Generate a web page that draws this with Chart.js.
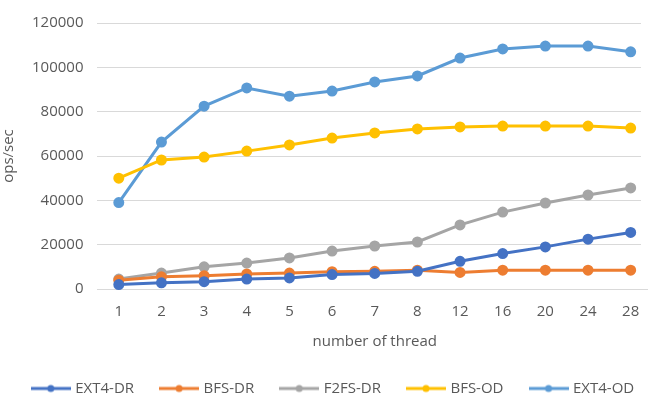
<!DOCTYPE html>
<html lang="en">
<head>
    <meta charset="UTF-8">
    <title>ops per thread</title>
    <script src="https://cdn.jsdelivr.net/npm/chart.js"></script>
    <style>
        body { margin: 0; padding: 0; background: #fff; }
        .wrap { width: 648px; height: 396px; }
    </style>
</head>
<body>
    <div class="wrap"><canvas id="opsChart" width="648" height="396"></canvas></div>
    <script>
        // data
        var threads = ['1', '2', '3', '4', '5', '6', '7', '8', '12', '16', '20', '24', '28'];
        var ext4DR = [2000, 2800, 3300, 4500, 5000, 6500, 7000, 8000, 12500, 16000, 19000, 22500, 25500];
        var bfsDR  = [4000, 5500, 6000, 6800, 7200, 7800, 8000, 8500, 7500, 8500, 8500, 8500, 8500];
        var f2fsDR = [4500, 7200, 10000, 11700, 14000, 17100, 19400, 21200, 28900, 34700, 38800, 42400, 45600];
        var bfsOD  = [50000, 58200, 59500, 62200, 65000, 68100, 70400, 72200, 73100, 73500, 73500, 73500, 72600];
        var ext4OD = [39000, 66300, 82500, 90700, 87000, 89300, 93400, 96100, 104200, 108300, 109600, 109600, 107000];
        var yTicks = [0, 20000, 40000, 60000, 80000, 100000, 120000];

        var txt = '#595959';
        var font = { family: 'Open Sans', size: 15 };

        // small line+dot image for legend entries
        function legendMark(color) {
            var c = document.createElement('canvas');
            c.width = 40; c.height = 10;
            var g = c.getContext('2d');
            g.strokeStyle = color; g.lineWidth = 3;
            g.beginPath(); g.moveTo(0, 5); g.lineTo(40, 5); g.stroke();
            g.fillStyle = color;
            g.beginPath(); g.arc(20, 5, 3.5, 0, Math.PI * 2); g.fill();
            return c;
        }

        function series(label, data, color) {
            return {
                label: label,
                data: data,
                borderColor: color,
                backgroundColor: color,
                borderWidth: 3,
                pointRadius: 4,
                pointHoverRadius: 4,
                pointStyle: 'circle',
                legendImg: legendMark(color),
                tension: 0,
                clip: false
            };
        }

        var datasets = [
            series('EXT4-DR', ext4DR, '#4472C4'),
            series('BFS-DR', bfsDR, '#ED7D31'),
            series('F2FS-DR', f2fsDR, '#A5A5A5'),
            series('BFS-OD', bfsOD, '#FFC000'),
            series('EXT4-OD', ext4OD, '#5B9BD5')
        ];

        // stretch the category axis a bit past the right edge, like the original
        var stretchX = {
            id: 'stretchX',
            afterLayout: function (chart) {
                var s = chart.scales.x;
                if (!s) return;
                s.right += 11;
                s.width += 11;
                s.configure();
            }
        };

        var ctx = document.getElementById('opsChart').getContext('2d');
        var opsChart = new Chart(ctx, {
            type: 'line',
            data: { labels: threads, datasets: datasets },
            plugins: [stretchX],
            options: {
                responsive: false,
                animation: false,
                devicePixelRatio: 1,
                layout: { padding: { top: 6, left: -2, right: -22, bottom: -10 } },
                plugins: {
                    tooltip: { enabled: false },
                    legend: {
                        position: 'bottom',
                        labels: {
                            color: txt,
                            font: font,
                            usePointStyle: true,
                            pointStyleWidth: 34,
                            padding: 28,
                            generateLabels: function (chart) {
                                return chart.data.datasets.map(function (d, i) {
                                    return {
                                        text: d.label,
                                        fontColor: txt,
                                        pointStyle: d.legendImg,
                                        strokeStyle: d.borderColor,
                                        fillStyle: d.borderColor,
                                        lineWidth: 0,
                                        datasetIndex: i
                                    };
                                });
                            }
                        }
                    }
                },
                scales: {
                    x: {
                        offset: true,
                        grid: { display: false },
                        border: { color: '#D9D9D9' },
                        ticks: { color: txt, font: font, padding: 6, autoSkip: false, maxRotation: 0 },
                        title: { display: true, text: 'number of thread', color: txt, font: font, padding: { top: 6, bottom: 2 } }
                    },
                    y: {
                        min: 0,
                        max: 120000,
                        afterBuildTicks: function (axis) {
                            axis.ticks = yTicks.map(function (v) { return { value: v }; });
                        },
                        grid: { color: '#D9D9D9', drawTicks: false },
                        border: { display: false },
                        ticks: {
                            color: txt, font: font, padding: 14,
                            callback: function (v) { return String(v); }
                        },
                        title: { display: true, text: 'ops/sec', color: txt, font: font, padding: { top: 2, bottom: 0 } }
                    }
                }
            }
        });
    </script>
</body>
</html>
